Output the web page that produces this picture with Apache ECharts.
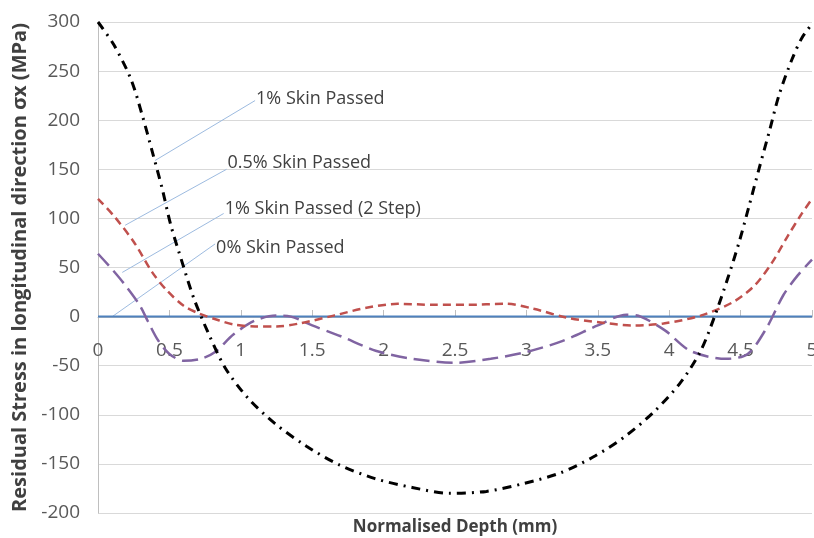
<!DOCTYPE html>
<html>
<head>
<meta charset="utf-8">
<script src="https://cdn.jsdelivr.net/npm/echarts@6/dist/echarts.min.js"></script>
<style>
  html, body { margin: 0; padding: 0; background: #fff; }
  #chart { width: 814px; height: 538px; }
</style>
</head>
<body>
<div id="chart"></div>
<script>
// depth (mm), stress (MPa) pairs
var skin1 = [[0,300],[0.11,277],[0.23,242],[0.31,205],[0.38,168],[0.45,130],[0.51,93],[0.59,55],[0.67,19],
  [0.77,-16],[0.89,-52],[1.05,-83],[1.24,-109],[1.46,-132],[1.69,-151],[1.94,-165],[2.2,-174],[2.46,-180],
  [2.72,-178],[2.98,-170],[3.24,-159],[3.48,-142],[3.7,-121],[3.9,-96],[4.08,-67],[4.22,-35],[4.32,1],
  [4.41,39],[4.49,76],[4.56,113],[4.63,151],[4.7,188],[4.77,226],[4.86,262],[4.93,284],[5,298]];
var skin05 = [[0,120],[0.12,101],[0.26,74],[0.38,45],[0.48,27],[0.6,11],[0.71,3],[0.85,-4],[0.95,-8],
  [1.1,-10],[1.25,-10],[1.41,-7],[1.65,1],[1.88,9],[2.1,13],[2.35,12],[2.58,12],[2.86,13],[3.05,8],
  [3.28,-1],[3.52,-6],[3.75,-9],[3.96,-7],[4.22,1],[4.45,15],[4.6,32],[4.72,55],[4.83,82],[4.92,103],[5,120]];
var skin1step2 = [[0,64],[0.1,48],[0.18,34],[0.29,12],[0.35,-5],[0.42,-24],[0.5,-38],[0.6,-45],[0.72,-43],
  [0.82,-36],[0.95,-18],[1.1,-4],[1.25,1],[1.35,0],[1.5,-9],[1.7,-20],[1.95,-35],[2.2,-43],[2.5,-47],
  [2.75,-43],[3.0,-36],[3.25,-25],[3.5,-9],[3.7,2],[3.8,0],[3.97,-14],[4.15,-35],[4.4,-43],[4.55,-38],
  [4.68,-12],[4.8,22],[4.9,42],[5,58]];
var skin0 = [[0,0],[5,0]];

var seriesNames = ['1% Skin Passed', '0.5% Skin Passed', '1% Skin Passed (2 Step)', '0% Skin Passed'];
// leader lines: [curve point, label point]
var leaderStart = [[0.40,159],[0.19,93],[0.17,45],[0.10,0]];
var leaderEnd = [[1.10,220],[0.90,150],[0.88,105],[0.82,74]];

var fontFamily = '"Open Sans", "Liberation Sans", sans-serif';
var labelNudge = [-2, -6, -5, 4];

var leaders = seriesNames.map(function (name, i) {
  return {
    type: 'line',
    silent: true,
    symbol: 'none',
    z: 1,
    lineStyle: { color: '#9dbbe0', width: 1 },
    endLabel: {
      show: true, distance: 1, offset: [0, labelNudge[i]],
      formatter: name, color: '#404040', fontSize: 18, fontFamily: fontFamily
    },
    data: [leaderStart[i], leaderEnd[i]]
  };
});

var chart = echarts.init(document.getElementById('chart'));
chart.setOption({
  animation: false,
  backgroundColor: '#fff',
  title: {
    text: 'Normalised Depth (mm)',
    left: 455, top: 519, textAlign: 'center', padding: 0,
    textStyle: { color: '#404040', fontSize: 17, fontWeight: 'bold', fontFamily: fontFamily }
  },
  grid: { left: 98, right: 2, top: 22, bottom: 25, outerBoundsMode: 'none', containLabel: false },
  xAxis: {
    type: 'value', min: 0, max: 5, interval: 0.5,
    position: 'bottom', offset: -196,
    axisLine: { onZero: false, lineStyle: { color: '#bfbfbf' } },
    axisTick: { show: true, inside: true, length: 7, lineStyle: { color: '#bfbfbf' } },
    axisLabel: { margin: 24, color: '#595959', fontSize: 19, fontFamily: fontFamily },
    splitLine: { show: false }
  },
  yAxis: {
    type: 'value', min: -200, max: 300, interval: 50,
    axisLine: { show: true, onZero: false, lineStyle: { color: '#bfbfbf' } },
    axisTick: { show: false },
    axisLabel: { margin: 18, color: '#595959', fontSize: 19, fontFamily: fontFamily },
    splitLine: { lineStyle: { color: '#d9d9d9', width: 1 } },
    name: 'Residual Stress in longitudinal direction \u03C3x (MPa)',
    nameLocation: 'middle', nameGap: 65,
    nameTextStyle: { color: '#404040', fontSize: 20, fontWeight: 'bold', fontFamily: fontFamily }
  },
  series: leaders.concat([
    {
      name: seriesNames[3], type: 'line', symbol: 'none', z: 2,
      lineStyle: { color: '#4f81bd', width: 2 }, data: skin0
    },
    {
      name: seriesNames[2], type: 'line', symbol: 'none', smooth: 0.3, z: 3,
      lineStyle: { color: '#8064a2', width: 2.5, type: [16, 7] }, data: skin1step2
    },
    {
      name: seriesNames[1], type: 'line', symbol: 'none', smooth: 0.3, z: 4,
      lineStyle: { color: '#c0504d', width: 2.5, type: [8, 5] }, data: skin05
    },
    {
      name: seriesNames[0], type: 'line', symbol: 'none', smooth: 0.3, z: 5,
      lineStyle: { color: '#000', width: 3, type: [9, 6, 2, 6] }, data: skin1
    }
  ])
});
</script>
</body>
</html>
